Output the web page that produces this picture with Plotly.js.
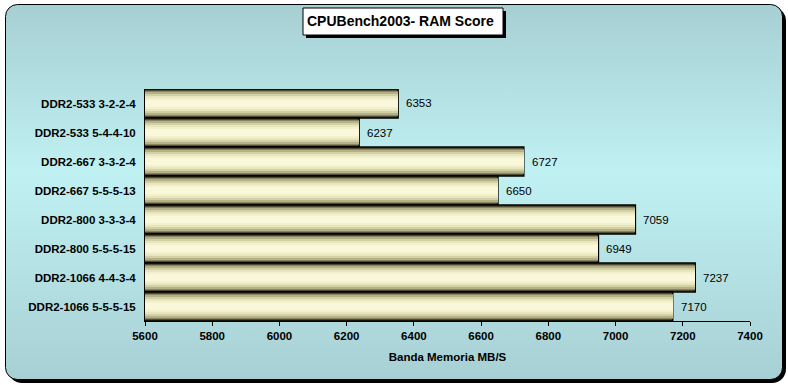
<!DOCTYPE html>
<html>
<head>
<meta charset="utf-8">
<script src="https://cdn.plot.ly/plotly-3.0.1.min.js"></script>
<style>html,body{margin:0;padding:0;background:#fff;}#chart{width:788px;height:385px;}</style>
</head>
<body>
<div id="chart"></div>
<script>
var categories = ["DDR2-533 3-2-2-4","DDR2-533 5-4-4-10","DDR2-667 3-3-2-4","DDR2-667 5-5-5-13","DDR2-800 3-3-3-4","DDR2-800 5-5-5-15","DDR2-1066 4-4-3-4","DDR2-1066 5-5-5-15"];
var scores = [6353,6237,6727,6650,7059,6949,7237,7170];
var xTicks = [5600,5800,6000,6200,6400,6600,6800,7000,7200,7400];
var chartTitle = "CPUBench2003- RAM Score";
var xTitle = "Banda Memoria MB/S";

var W = 788, H = 385;
var FONT = "Arial, 'Liberation Sans', sans-serif";

// background panel (decoration)
var bgSvg = '<svg xmlns="http://www.w3.org/2000/svg" width="788" height="385">' +
  '<defs><linearGradient id="g" x1="0" y1="0" x2="0" y2="1">' +
  '<stop offset="0" stop-color="#a7cfd3"/><stop offset="0.45" stop-color="#c0f1f2"/><stop offset="1" stop-color="#a8d0d4"/>' +
  '</linearGradient></defs>' +
  '<rect x="8" y="7" width="778" height="376" rx="14" ry="14" fill="#000"/>' +
  '<rect x="5.5" y="4.5" width="777" height="375" rx="12" ry="12" fill="url(#g)" stroke="#000" stroke-width="1"/>' +
  '</svg>';
var bgSrc = 'data:image/svg+xml;charset=utf-8,' + encodeURIComponent(bgSvg);

var layers = [
  {w:1.0, c:'#4f4c33'},
  {w:0.88, c:'#88855f'},
  {w:0.76, c:'#b4b189'},
  {w:0.64, c:'#d3d0a5'},
  {w:0.50, c:'#e8e6bc'},
  {w:0.36, c:'#f3f1cc'},
  {w:0.22, c:'#faf8da'}
];

var traces = layers.map(function(L, i){
  return {
    type:'bar', orientation:'h',
    x: scores, y: categories,
    width: categories.map(function(){return L.w;}),
    marker:{color:L.c, line:{color:'#000', width: i===0 ? 1.5 : 0}},
    hoverinfo:'skip'
  };
});

var annotations = scores.map(function(v, i){
  return {x:v, y:categories[i], xref:'x', yref:'y', text:String(v), showarrow:false,
    xanchor:'left', yanchor:'middle', xshift:6, font:{family:FONT, size:11.5, color:'#000'}};
});
annotations.push({x:0.5085, y:(H-21.5)/H, xref:'paper', yref:'paper', text:'<b>'+chartTitle+'</b>',
  showarrow:false, xanchor:'center', yanchor:'middle', font:{family:FONT, size:14, color:'#000'}});

var layout = {
  width:W, height:H,
  margin:{l:0,r:0,t:0,b:0},
  paper_bgcolor:'#fff', plot_bgcolor:'rgba(0,0,0,0)',
  barmode:'overlay', bargap:0,
  showlegend:false, hovermode:false,
  font:{family:FONT, size:11, color:'#000'},
  images:[{source:bgSrc, xref:'paper', yref:'paper', x:0, y:1, sizex:1, sizey:1,
    xanchor:'left', yanchor:'top', sizing:'stretch', layer:'below'}],
  xaxis:{
    domain:[145/W, 750/W], range:[5600,7400],
    tickvals:xTicks, ticktext:xTicks.map(String),
    showgrid:false, zeroline:false, showline:true, linecolor:'#000', linewidth:1,
    ticks:'outside', ticklen:4, tickcolor:'#000',
    tickfont:{family:FONT, size:11.5, color:'#000', weight:'bold'},
    title:{text:'<b>'+xTitle+'</b>', font:{family:FONT, size:11.5, color:'#000'}, standoff:12}
  },
  yaxis:{
    domain:[(H-321)/H, (H-89)/H], range:[7.5,-0.5], type:'category',
    showgrid:false, zeroline:false, showline:true, linecolor:'#000', linewidth:1,
    ticks:'', ticklabelstandoff:6,
    tickfont:{family:FONT, size:11.5, color:'#000', weight:'bold'}
  },
  shapes:[
    {type:'rect', xref:'paper', yref:'paper', x0:306/W, x1:506/W, y0:(H-38)/H, y1:(H-11)/H,
      fillcolor:'#000', line:{width:0}},
    {type:'rect', xref:'paper', yref:'paper', x0:303/W, x1:503/W, y0:(H-35)/H, y1:(H-8)/H,
      fillcolor:'#fff', line:{color:'#000', width:1}}
  ],
  annotations:annotations
};

Plotly.newPlot('chart', traces, layout, {displayModeBar:false, staticPlot:true});
</script>
</body>
</html>
